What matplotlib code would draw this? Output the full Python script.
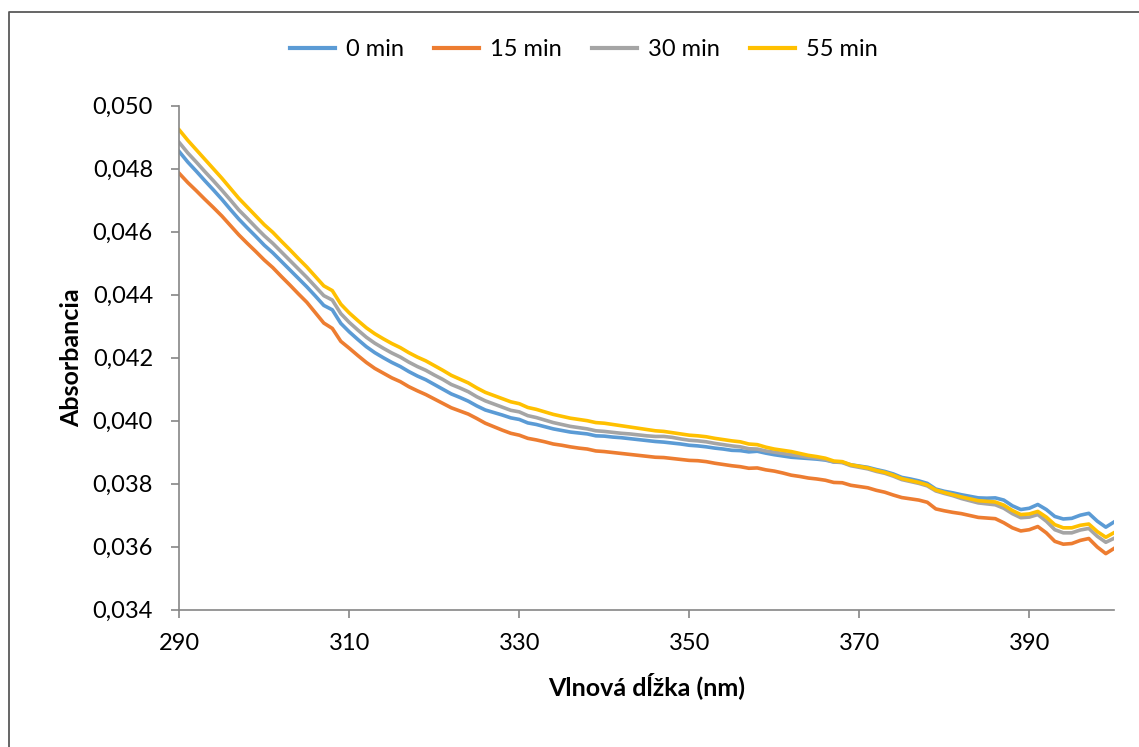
import matplotlib
matplotlib.use("Agg")
import matplotlib.pyplot as plt
from matplotlib.lines import Line2D
from matplotlib.ticker import FuncFormatter, MultipleLocator

plt.rcParams['font.family'] = ['Lato', 'DejaVu Sans']

wavelength = list(range(290, 401))

abs_0min = [
    0.04854, 0.04821, 0.04792, 0.04762, 0.04733, 0.04703, 0.04671, 0.04640, 0.04612, 0.04585,
    0.04557, 0.04533, 0.04506, 0.04479, 0.04452, 0.04425, 0.04396, 0.04366, 0.04352, 0.04309,
    0.04282, 0.04258, 0.04235, 0.04216, 0.04200, 0.04185, 0.04172, 0.04156, 0.04142, 0.04130,
    0.04115, 0.04100, 0.04085, 0.04074, 0.04062, 0.04047, 0.04034, 0.04026, 0.04018, 0.04009,
    0.04004, 0.03993, 0.03988, 0.03981, 0.03974, 0.03969, 0.03964, 0.03961, 0.03958, 0.03952,
    0.03951, 0.03948, 0.03946, 0.03943, 0.03940, 0.03937, 0.03934, 0.03932, 0.03929, 0.03926,
    0.03922, 0.03920, 0.03917, 0.03913, 0.03910, 0.03906, 0.03905, 0.03901, 0.03903, 0.03897,
    0.03892, 0.03888, 0.03884, 0.03882, 0.03880, 0.03878, 0.03875, 0.03869, 0.03868, 0.03860,
    0.03856, 0.03852, 0.03845, 0.03839, 0.03831, 0.03820, 0.03815, 0.03809, 0.03801, 0.03783,
    0.03776, 0.03771, 0.03765, 0.03760, 0.03755, 0.03754, 0.03755, 0.03748, 0.03730, 0.03718,
    0.03722, 0.03734, 0.03718, 0.03696, 0.03688, 0.03690, 0.03700, 0.03706, 0.03681, 0.03662,
    0.03679,
]

abs_15min = [
    0.04785, 0.04756, 0.04730, 0.04703, 0.04677, 0.04650, 0.04620, 0.04590, 0.04563, 0.04537,
    0.04510, 0.04486, 0.04458, 0.04431, 0.04403, 0.04376, 0.04343, 0.04310, 0.04293, 0.04252,
    0.04230, 0.04207, 0.04185, 0.04166, 0.04151, 0.04136, 0.04124, 0.04108, 0.04095, 0.04083,
    0.04069, 0.04055, 0.04041, 0.04031, 0.04021, 0.04007, 0.03992, 0.03981, 0.03970, 0.03960,
    0.03954, 0.03944, 0.03939, 0.03933, 0.03926, 0.03922, 0.03917, 0.03913, 0.03910, 0.03904,
    0.03902, 0.03899, 0.03896, 0.03893, 0.03890, 0.03887, 0.03884, 0.03883, 0.03880, 0.03877,
    0.03874, 0.03873, 0.03870, 0.03865, 0.03861, 0.03857, 0.03854, 0.03849, 0.03850, 0.03844,
    0.03840, 0.03834, 0.03827, 0.03823, 0.03818, 0.03815, 0.03811, 0.03804, 0.03803, 0.03795,
    0.03791, 0.03787, 0.03779, 0.03773, 0.03764, 0.03756, 0.03752, 0.03748, 0.03741, 0.03720,
    0.03714, 0.03709, 0.03705, 0.03699, 0.03693, 0.03691, 0.03689, 0.03676, 0.03660, 0.03650,
    0.03654, 0.03664, 0.03644, 0.03617, 0.03608, 0.03610, 0.03620, 0.03626, 0.03599, 0.03578,
    0.03595,
]

abs_30min = [
    0.04883, 0.04850, 0.04821, 0.04791, 0.04762, 0.04732, 0.04701, 0.04669, 0.04642, 0.04614,
    0.04587, 0.04563, 0.04536, 0.04509, 0.04482, 0.04455, 0.04426, 0.04397, 0.04383, 0.04340,
    0.04312, 0.04288, 0.04265, 0.04246, 0.04230, 0.04215, 0.04202, 0.04186, 0.04172, 0.04160,
    0.04145, 0.04131, 0.04115, 0.04104, 0.04092, 0.04076, 0.04063, 0.04053, 0.04043, 0.04033,
    0.04028, 0.04016, 0.04010, 0.04002, 0.03994, 0.03988, 0.03982, 0.03978, 0.03974, 0.03968,
    0.03966, 0.03963, 0.03960, 0.03958, 0.03955, 0.03952, 0.03950, 0.03950, 0.03947, 0.03942,
    0.03938, 0.03936, 0.03933, 0.03928, 0.03924, 0.03920, 0.03917, 0.03911, 0.03910, 0.03904,
    0.03900, 0.03896, 0.03892, 0.03888, 0.03884, 0.03881, 0.03877, 0.03869, 0.03867, 0.03857,
    0.03852, 0.03847, 0.03839, 0.03833, 0.03824, 0.03813, 0.03807, 0.03801, 0.03793, 0.03777,
    0.03769, 0.03762, 0.03753, 0.03746, 0.03739, 0.03736, 0.03733, 0.03722, 0.03705, 0.03692,
    0.03694, 0.03702, 0.03681, 0.03654, 0.03644, 0.03644, 0.03653, 0.03658, 0.03633, 0.03614,
    0.03627,
]

abs_55min = [
    0.04923, 0.04890, 0.04860, 0.04830, 0.04800, 0.04770, 0.04738, 0.04706, 0.04678, 0.04650,
    0.04622, 0.04598, 0.04570, 0.04543, 0.04515, 0.04488, 0.04458, 0.04428, 0.04413, 0.04370,
    0.04342, 0.04318, 0.04295, 0.04276, 0.04260, 0.04245, 0.04232, 0.04216, 0.04202, 0.04190,
    0.04175, 0.04160, 0.04144, 0.04132, 0.04120, 0.04104, 0.04090, 0.04080, 0.04070, 0.04060,
    0.04054, 0.04042, 0.04036, 0.04028, 0.04020, 0.04014, 0.04008, 0.04004, 0.04000, 0.03994,
    0.03992, 0.03988, 0.03984, 0.03980, 0.03976, 0.03972, 0.03968, 0.03966, 0.03962, 0.03958,
    0.03954, 0.03952, 0.03949, 0.03944, 0.03940, 0.03936, 0.03933, 0.03926, 0.03924, 0.03916,
    0.03910, 0.03906, 0.03902, 0.03896, 0.03890, 0.03886, 0.03881, 0.03872, 0.03870, 0.03860,
    0.03855, 0.03850, 0.03842, 0.03836, 0.03827, 0.03816, 0.03810, 0.03804, 0.03796, 0.03780,
    0.03772, 0.03765, 0.03758, 0.03752, 0.03746, 0.03744, 0.03742, 0.03732, 0.03715, 0.03702,
    0.03704, 0.03712, 0.03694, 0.03670, 0.03660, 0.03660, 0.03668, 0.03672, 0.03648, 0.03630,
    0.03645,
]

series_labels = ['0 min', '15 min', '30 min', '55 min']
series_colors = ['#5B9BD5', '#ED7D31', '#A5A5A5', '#FFC000']
x_ticks = [290, 310, 330, 350, 370, 390]
x_title = 'Vlnová dĺžka (nm)'
y_title = 'Absorbancia'

W, H = 1139, 747
fig = plt.figure(figsize=(W / 100, H / 100), dpi=100)
ax = fig.add_axes([179.3 / W, 1 - 609.7 / H, (1114.3 - 179.3) / W, (609.7 - 105.7) / H])

for vals, lab, col in zip([abs_0min, abs_15min, abs_30min, abs_55min], series_labels, series_colors):
    ax.plot(wavelength, vals, color=col, lw=2.6, label=lab, solid_joinstyle='round')

ax.set_xlim(290, 400)
ax.set_ylim(0.034, 0.050)
ax.set_xticks(x_ticks)
ax.yaxis.set_major_locator(MultipleLocator(0.002))
ax.yaxis.set_major_formatter(FuncFormatter(lambda v, p: f"{v:.3f}".replace('.', ',')))

for s in ['top', 'right']:
    ax.spines[s].set_visible(False)
for s in ['left', 'bottom']:
    ax.spines[s].set_color('#868686')
    ax.spines[s].set_linewidth(1.2)

ax.tick_params(axis='both', colors='#868686', labelcolor='black', labelsize=17, length=6, width=1.2, direction='out')
ax.tick_params(axis='y', pad=13)
ax.tick_params(axis='x', pad=11)

ax.set_xlabel(x_title, fontsize=18, fontweight='bold', labelpad=13)
ax.set_ylabel(y_title, fontsize=18, fontweight='bold', labelpad=7)

leg = fig.legend(loc='center', bbox_to_anchor=(584 / W, 1 - 50 / H), ncol=4, frameon=False,
                 fontsize=17, handlelength=1.9, handletextpad=0.45, columnspacing=1.3)
for h in leg.get_lines():
    h.set_linewidth(3)

# outer chart border (partially cropped in the reference)
bx = 8.5 / W
by = 1 - 11.5 / H
fig.add_artist(Line2D([bx, bx, 1.01], [-0.01, by, by], transform=fig.transFigure,
                      color='#595959', lw=1.3))

fig.savefig('out.png', dpi=100, facecolor='white')
